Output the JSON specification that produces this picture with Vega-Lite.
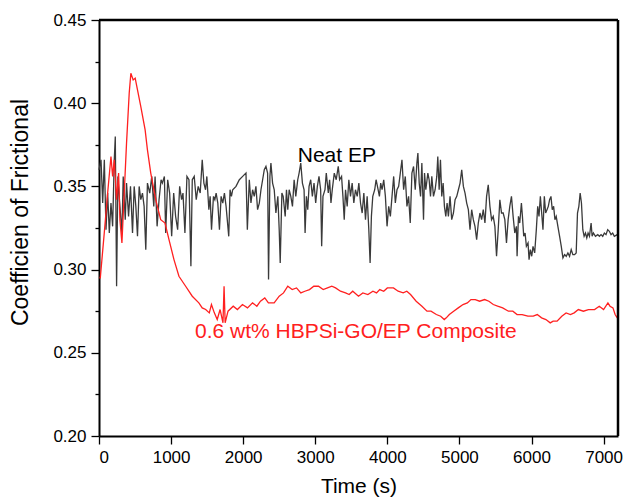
{
  "$schema": "https://vega.github.io/schema/vega-lite/v6.json",
  "width": 519,
  "height": 416,
  "autosize": {"type": "none"},
  "padding": {"left": 99, "top": 20, "right": 7, "bottom": 67},
  "background": "white",
  "config": {
    "view": {"stroke": null},
    "font": "Liberation Sans"
  },
  "resolve": {"scale": {"color": "independent"}},
  "datasets": {
    "curves": [
      {"series": "Neat EP", "t": 0, "v": 0.360},
      {"series": "Neat EP", "t": 28, "v": 0.366},
      {"series": "Neat EP", "t": 51, "v": 0.340},
      {"series": "Neat EP", "t": 74, "v": 0.366},
      {"series": "Neat EP", "t": 97, "v": 0.324},
      {"series": "Neat EP", "t": 120, "v": 0.346},
      {"series": "Neat EP", "t": 143, "v": 0.322},
      {"series": "Neat EP", "t": 166, "v": 0.340},
      {"series": "Neat EP", "t": 189, "v": 0.326},
      {"series": "Neat EP", "t": 212, "v": 0.366},
      {"series": "Neat EP", "t": 226, "v": 0.380},
      {"series": "Neat EP", "t": 244, "v": 0.290},
      {"series": "Neat EP", "t": 262, "v": 0.356},
      {"series": "Neat EP", "t": 290, "v": 0.338},
      {"series": "Neat EP", "t": 318, "v": 0.322},
      {"series": "Neat EP", "t": 336, "v": 0.356},
      {"series": "Neat EP", "t": 364, "v": 0.330},
      {"series": "Neat EP", "t": 382, "v": 0.352},
      {"series": "Neat EP", "t": 410, "v": 0.332},
      {"series": "Neat EP", "t": 437, "v": 0.350},
      {"series": "Neat EP", "t": 465, "v": 0.322},
      {"series": "Neat EP", "t": 488, "v": 0.350},
      {"series": "Neat EP", "t": 511, "v": 0.338},
      {"series": "Neat EP", "t": 534, "v": 0.320},
      {"series": "Neat EP", "t": 557, "v": 0.350},
      {"series": "Neat EP", "t": 580, "v": 0.342},
      {"series": "Neat EP", "t": 603, "v": 0.346},
      {"series": "Neat EP", "t": 626, "v": 0.338},
      {"series": "Neat EP", "t": 649, "v": 0.312},
      {"series": "Neat EP", "t": 672, "v": 0.352},
      {"series": "Neat EP", "t": 704, "v": 0.346},
      {"series": "Neat EP", "t": 732, "v": 0.356},
      {"series": "Neat EP", "t": 760, "v": 0.338},
      {"series": "Neat EP", "t": 778, "v": 0.356},
      {"series": "Neat EP", "t": 806, "v": 0.326},
      {"series": "Neat EP", "t": 833, "v": 0.342},
      {"series": "Neat EP", "t": 861, "v": 0.354},
      {"series": "Neat EP", "t": 879, "v": 0.352},
      {"series": "Neat EP", "t": 907, "v": 0.356},
      {"series": "Neat EP", "t": 925, "v": 0.322},
      {"series": "Neat EP", "t": 953, "v": 0.354},
      {"series": "Neat EP", "t": 980, "v": 0.346},
      {"series": "Neat EP", "t": 1008, "v": 0.320},
      {"series": "Neat EP", "t": 1036, "v": 0.346},
      {"series": "Neat EP", "t": 1063, "v": 0.332},
      {"series": "Neat EP", "t": 1091, "v": 0.324},
      {"series": "Neat EP", "t": 1119, "v": 0.350},
      {"series": "Neat EP", "t": 1146, "v": 0.342},
      {"series": "Neat EP", "t": 1165, "v": 0.346},
      {"series": "Neat EP", "t": 1192, "v": 0.322},
      {"series": "Neat EP", "t": 1220, "v": 0.356},
      {"series": "Neat EP", "t": 1248, "v": 0.354},
      {"series": "Neat EP", "t": 1275, "v": 0.302},
      {"series": "Neat EP", "t": 1294, "v": 0.354},
      {"series": "Neat EP", "t": 1321, "v": 0.356},
      {"series": "Neat EP", "t": 1349, "v": 0.342},
      {"series": "Neat EP", "t": 1376, "v": 0.350},
      {"series": "Neat EP", "t": 1404, "v": 0.346},
      {"series": "Neat EP", "t": 1432, "v": 0.366},
      {"series": "Neat EP", "t": 1455, "v": 0.352},
      {"series": "Neat EP", "t": 1478, "v": 0.348},
      {"series": "Neat EP", "t": 1496, "v": 0.356},
      {"series": "Neat EP", "t": 1524, "v": 0.336},
      {"series": "Neat EP", "t": 1542, "v": 0.344},
      {"series": "Neat EP", "t": 1561, "v": 0.324},
      {"series": "Neat EP", "t": 1588, "v": 0.344},
      {"series": "Neat EP", "t": 1607, "v": 0.342},
      {"series": "Neat EP", "t": 1625, "v": 0.346},
      {"series": "Neat EP", "t": 1648, "v": 0.340},
      {"series": "Neat EP", "t": 1671, "v": 0.324},
      {"series": "Neat EP", "t": 1694, "v": 0.344},
      {"series": "Neat EP", "t": 1717, "v": 0.340},
      {"series": "Neat EP", "t": 1740, "v": 0.346},
      {"series": "Neat EP", "t": 1763, "v": 0.338},
      {"series": "Neat EP", "t": 1800, "v": 0.320},
      {"series": "Neat EP", "t": 1818, "v": 0.348},
      {"series": "Neat EP", "t": 1837, "v": 0.344},
      {"series": "Neat EP", "t": 1855, "v": 0.348},
      {"series": "Neat EP", "t": 1901, "v": 0.350},
      {"series": "Neat EP", "t": 1947, "v": 0.354},
      {"series": "Neat EP", "t": 1993, "v": 0.356},
      {"series": "Neat EP", "t": 2039, "v": 0.358},
      {"series": "Neat EP", "t": 2058, "v": 0.324},
      {"series": "Neat EP", "t": 2085, "v": 0.354},
      {"series": "Neat EP", "t": 2108, "v": 0.340},
      {"series": "Neat EP", "t": 2131, "v": 0.348},
      {"series": "Neat EP", "t": 2154, "v": 0.344},
      {"series": "Neat EP", "t": 2177, "v": 0.350},
      {"series": "Neat EP", "t": 2200, "v": 0.336},
      {"series": "Neat EP", "t": 2224, "v": 0.340},
      {"series": "Neat EP", "t": 2247, "v": 0.348},
      {"series": "Neat EP", "t": 2270, "v": 0.354},
      {"series": "Neat EP", "t": 2293, "v": 0.360},
      {"series": "Neat EP", "t": 2316, "v": 0.362},
      {"series": "Neat EP", "t": 2339, "v": 0.358},
      {"series": "Neat EP", "t": 2352, "v": 0.294},
      {"series": "Neat EP", "t": 2371, "v": 0.356},
      {"series": "Neat EP", "t": 2385, "v": 0.364},
      {"series": "Neat EP", "t": 2408, "v": 0.352},
      {"series": "Neat EP", "t": 2431, "v": 0.348},
      {"series": "Neat EP", "t": 2454, "v": 0.334},
      {"series": "Neat EP", "t": 2481, "v": 0.344},
      {"series": "Neat EP", "t": 2500, "v": 0.324},
      {"series": "Neat EP", "t": 2514, "v": 0.304},
      {"series": "Neat EP", "t": 2537, "v": 0.346},
      {"series": "Neat EP", "t": 2555, "v": 0.344},
      {"series": "Neat EP", "t": 2583, "v": 0.332},
      {"series": "Neat EP", "t": 2601, "v": 0.348},
      {"series": "Neat EP", "t": 2619, "v": 0.336},
      {"series": "Neat EP", "t": 2638, "v": 0.348},
      {"series": "Neat EP", "t": 2661, "v": 0.344},
      {"series": "Neat EP", "t": 2684, "v": 0.338},
      {"series": "Neat EP", "t": 2707, "v": 0.354},
      {"series": "Neat EP", "t": 2730, "v": 0.344},
      {"series": "Neat EP", "t": 2757, "v": 0.354},
      {"series": "Neat EP", "t": 2776, "v": 0.358},
      {"series": "Neat EP", "t": 2799, "v": 0.364},
      {"series": "Neat EP", "t": 2822, "v": 0.352},
      {"series": "Neat EP", "t": 2845, "v": 0.348},
      {"series": "Neat EP", "t": 2859, "v": 0.322},
      {"series": "Neat EP", "t": 2877, "v": 0.344},
      {"series": "Neat EP", "t": 2896, "v": 0.336},
      {"series": "Neat EP", "t": 2914, "v": 0.350},
      {"series": "Neat EP", "t": 2937, "v": 0.354},
      {"series": "Neat EP", "t": 2960, "v": 0.344},
      {"series": "Neat EP", "t": 2983, "v": 0.352},
      {"series": "Neat EP", "t": 3006, "v": 0.340},
      {"series": "Neat EP", "t": 3029, "v": 0.350},
      {"series": "Neat EP", "t": 3052, "v": 0.356},
      {"series": "Neat EP", "t": 3075, "v": 0.348},
      {"series": "Neat EP", "t": 3089, "v": 0.314},
      {"series": "Neat EP", "t": 3107, "v": 0.344},
      {"series": "Neat EP", "t": 3135, "v": 0.348},
      {"series": "Neat EP", "t": 3153, "v": 0.358},
      {"series": "Neat EP", "t": 3181, "v": 0.346},
      {"series": "Neat EP", "t": 3199, "v": 0.354},
      {"series": "Neat EP", "t": 3218, "v": 0.340},
      {"series": "Neat EP", "t": 3236, "v": 0.348},
      {"series": "Neat EP", "t": 3264, "v": 0.358},
      {"series": "Neat EP", "t": 3291, "v": 0.354},
      {"series": "Neat EP", "t": 3319, "v": 0.362},
      {"series": "Neat EP", "t": 3338, "v": 0.354},
      {"series": "Neat EP", "t": 3365, "v": 0.356},
      {"series": "Neat EP", "t": 3384, "v": 0.344},
      {"series": "Neat EP", "t": 3402, "v": 0.330},
      {"series": "Neat EP", "t": 3420, "v": 0.348},
      {"series": "Neat EP", "t": 3443, "v": 0.338},
      {"series": "Neat EP", "t": 3466, "v": 0.354},
      {"series": "Neat EP", "t": 3489, "v": 0.344},
      {"series": "Neat EP", "t": 3512, "v": 0.352},
      {"series": "Neat EP", "t": 3535, "v": 0.340},
      {"series": "Neat EP", "t": 3558, "v": 0.348},
      {"series": "Neat EP", "t": 3582, "v": 0.344},
      {"series": "Neat EP", "t": 3605, "v": 0.352},
      {"series": "Neat EP", "t": 3628, "v": 0.340},
      {"series": "Neat EP", "t": 3651, "v": 0.334},
      {"series": "Neat EP", "t": 3674, "v": 0.346},
      {"series": "Neat EP", "t": 3697, "v": 0.330},
      {"series": "Neat EP", "t": 3720, "v": 0.344},
      {"series": "Neat EP", "t": 3743, "v": 0.324},
      {"series": "Neat EP", "t": 3761, "v": 0.304},
      {"series": "Neat EP", "t": 3779, "v": 0.332},
      {"series": "Neat EP", "t": 3798, "v": 0.344},
      {"series": "Neat EP", "t": 3825, "v": 0.348},
      {"series": "Neat EP", "t": 3844, "v": 0.354},
      {"series": "Neat EP", "t": 3872, "v": 0.348},
      {"series": "Neat EP", "t": 3890, "v": 0.344},
      {"series": "Neat EP", "t": 3908, "v": 0.352},
      {"series": "Neat EP", "t": 3927, "v": 0.348},
      {"series": "Neat EP", "t": 3950, "v": 0.354},
      {"series": "Neat EP", "t": 3973, "v": 0.344},
      {"series": "Neat EP", "t": 3996, "v": 0.326},
      {"series": "Neat EP", "t": 4019, "v": 0.338},
      {"series": "Neat EP", "t": 4042, "v": 0.332},
      {"series": "Neat EP", "t": 4065, "v": 0.344},
      {"series": "Neat EP", "t": 4088, "v": 0.356},
      {"series": "Neat EP", "t": 4111, "v": 0.340},
      {"series": "Neat EP", "t": 4134, "v": 0.348},
      {"series": "Neat EP", "t": 4157, "v": 0.350},
      {"series": "Neat EP", "t": 4180, "v": 0.358},
      {"series": "Neat EP", "t": 4203, "v": 0.366},
      {"series": "Neat EP", "t": 4226, "v": 0.348},
      {"series": "Neat EP", "t": 4249, "v": 0.356},
      {"series": "Neat EP", "t": 4272, "v": 0.338},
      {"series": "Neat EP", "t": 4295, "v": 0.344},
      {"series": "Neat EP", "t": 4318, "v": 0.328},
      {"series": "Neat EP", "t": 4341, "v": 0.358},
      {"series": "Neat EP", "t": 4364, "v": 0.362},
      {"series": "Neat EP", "t": 4387, "v": 0.348},
      {"series": "Neat EP", "t": 4410, "v": 0.364},
      {"series": "Neat EP", "t": 4424, "v": 0.370},
      {"series": "Neat EP", "t": 4442, "v": 0.352},
      {"series": "Neat EP", "t": 4461, "v": 0.344},
      {"series": "Neat EP", "t": 4479, "v": 0.364},
      {"series": "Neat EP", "t": 4502, "v": 0.330},
      {"series": "Neat EP", "t": 4516, "v": 0.358},
      {"series": "Neat EP", "t": 4534, "v": 0.348},
      {"series": "Neat EP", "t": 4562, "v": 0.358},
      {"series": "Neat EP", "t": 4580, "v": 0.354},
      {"series": "Neat EP", "t": 4599, "v": 0.344},
      {"series": "Neat EP", "t": 4617, "v": 0.356},
      {"series": "Neat EP", "t": 4640, "v": 0.344},
      {"series": "Neat EP", "t": 4663, "v": 0.348},
      {"series": "Neat EP", "t": 4686, "v": 0.356},
      {"series": "Neat EP", "t": 4700, "v": 0.368},
      {"series": "Neat EP", "t": 4719, "v": 0.348},
      {"series": "Neat EP", "t": 4737, "v": 0.366},
      {"series": "Neat EP", "t": 4755, "v": 0.344},
      {"series": "Neat EP", "t": 4774, "v": 0.352},
      {"series": "Neat EP", "t": 4792, "v": 0.338},
      {"series": "Neat EP", "t": 4811, "v": 0.332},
      {"series": "Neat EP", "t": 4829, "v": 0.340},
      {"series": "Neat EP", "t": 4847, "v": 0.332},
      {"series": "Neat EP", "t": 4870, "v": 0.344},
      {"series": "Neat EP", "t": 4893, "v": 0.330},
      {"series": "Neat EP", "t": 4917, "v": 0.334},
      {"series": "Neat EP", "t": 4940, "v": 0.342},
      {"series": "Neat EP", "t": 4963, "v": 0.344},
      {"series": "Neat EP", "t": 4986, "v": 0.348},
      {"series": "Neat EP", "t": 5009, "v": 0.352},
      {"series": "Neat EP", "t": 5032, "v": 0.360},
      {"series": "Neat EP", "t": 5055, "v": 0.350},
      {"series": "Neat EP", "t": 5078, "v": 0.346},
      {"series": "Neat EP", "t": 5101, "v": 0.340},
      {"series": "Neat EP", "t": 5124, "v": 0.336},
      {"series": "Neat EP", "t": 5147, "v": 0.324},
      {"series": "Neat EP", "t": 5170, "v": 0.336},
      {"series": "Neat EP", "t": 5193, "v": 0.330},
      {"series": "Neat EP", "t": 5216, "v": 0.326},
      {"series": "Neat EP", "t": 5239, "v": 0.318},
      {"series": "Neat EP", "t": 5262, "v": 0.328},
      {"series": "Neat EP", "t": 5285, "v": 0.334},
      {"series": "Neat EP", "t": 5308, "v": 0.330},
      {"series": "Neat EP", "t": 5331, "v": 0.336},
      {"series": "Neat EP", "t": 5354, "v": 0.328},
      {"series": "Neat EP", "t": 5377, "v": 0.344},
      {"series": "Neat EP", "t": 5400, "v": 0.351},
      {"series": "Neat EP", "t": 5423, "v": 0.338},
      {"series": "Neat EP", "t": 5446, "v": 0.330},
      {"series": "Neat EP", "t": 5469, "v": 0.332},
      {"series": "Neat EP", "t": 5492, "v": 0.326},
      {"series": "Neat EP", "t": 5515, "v": 0.308},
      {"series": "Neat EP", "t": 5538, "v": 0.324},
      {"series": "Neat EP", "t": 5561, "v": 0.342},
      {"series": "Neat EP", "t": 5584, "v": 0.334},
      {"series": "Neat EP", "t": 5607, "v": 0.334},
      {"series": "Neat EP", "t": 5630, "v": 0.330},
      {"series": "Neat EP", "t": 5653, "v": 0.316},
      {"series": "Neat EP", "t": 5676, "v": 0.330},
      {"series": "Neat EP", "t": 5699, "v": 0.338},
      {"series": "Neat EP", "t": 5722, "v": 0.344},
      {"series": "Neat EP", "t": 5745, "v": 0.332},
      {"series": "Neat EP", "t": 5768, "v": 0.322},
      {"series": "Neat EP", "t": 5791, "v": 0.326},
      {"series": "Neat EP", "t": 5800, "v": 0.308},
      {"series": "Neat EP", "t": 5819, "v": 0.332},
      {"series": "Neat EP", "t": 5837, "v": 0.328},
      {"series": "Neat EP", "t": 5860, "v": 0.340},
      {"series": "Neat EP", "t": 5874, "v": 0.332},
      {"series": "Neat EP", "t": 5892, "v": 0.320},
      {"series": "Neat EP", "t": 5911, "v": 0.322},
      {"series": "Neat EP", "t": 5929, "v": 0.314},
      {"series": "Neat EP", "t": 5952, "v": 0.316},
      {"series": "Neat EP", "t": 5966, "v": 0.306},
      {"series": "Neat EP", "t": 5984, "v": 0.312},
      {"series": "Neat EP", "t": 6003, "v": 0.308},
      {"series": "Neat EP", "t": 6021, "v": 0.314},
      {"series": "Neat EP", "t": 6044, "v": 0.310},
      {"series": "Neat EP", "t": 6067, "v": 0.324},
      {"series": "Neat EP", "t": 6086, "v": 0.338},
      {"series": "Neat EP", "t": 6104, "v": 0.332},
      {"series": "Neat EP", "t": 6123, "v": 0.344},
      {"series": "Neat EP", "t": 6141, "v": 0.334},
      {"series": "Neat EP", "t": 6159, "v": 0.324},
      {"series": "Neat EP", "t": 6178, "v": 0.344},
      {"series": "Neat EP", "t": 6196, "v": 0.334},
      {"series": "Neat EP", "t": 6215, "v": 0.336},
      {"series": "Neat EP", "t": 6233, "v": 0.338},
      {"series": "Neat EP", "t": 6251, "v": 0.342},
      {"series": "Neat EP", "t": 6270, "v": 0.344},
      {"series": "Neat EP", "t": 6288, "v": 0.336},
      {"series": "Neat EP", "t": 6307, "v": 0.338},
      {"series": "Neat EP", "t": 6325, "v": 0.330},
      {"series": "Neat EP", "t": 6343, "v": 0.332},
      {"series": "Neat EP", "t": 6366, "v": 0.326},
      {"series": "Neat EP", "t": 6390, "v": 0.320},
      {"series": "Neat EP", "t": 6413, "v": 0.314},
      {"series": "Neat EP", "t": 6436, "v": 0.307},
      {"series": "Neat EP", "t": 6459, "v": 0.309},
      {"series": "Neat EP", "t": 6482, "v": 0.308},
      {"series": "Neat EP", "t": 6505, "v": 0.310},
      {"series": "Neat EP", "t": 6528, "v": 0.308},
      {"series": "Neat EP", "t": 6551, "v": 0.312},
      {"series": "Neat EP", "t": 6574, "v": 0.309},
      {"series": "Neat EP", "t": 6597, "v": 0.309},
      {"series": "Neat EP", "t": 6620, "v": 0.310},
      {"series": "Neat EP", "t": 6638, "v": 0.334},
      {"series": "Neat EP", "t": 6657, "v": 0.338},
      {"series": "Neat EP", "t": 6675, "v": 0.346},
      {"series": "Neat EP", "t": 6693, "v": 0.340},
      {"series": "Neat EP", "t": 6712, "v": 0.324},
      {"series": "Neat EP", "t": 6730, "v": 0.320},
      {"series": "Neat EP", "t": 6749, "v": 0.322},
      {"series": "Neat EP", "t": 6767, "v": 0.319},
      {"series": "Neat EP", "t": 6785, "v": 0.322},
      {"series": "Neat EP", "t": 6804, "v": 0.320},
      {"series": "Neat EP", "t": 6827, "v": 0.328},
      {"series": "Neat EP", "t": 6841, "v": 0.320},
      {"series": "Neat EP", "t": 6859, "v": 0.322},
      {"series": "Neat EP", "t": 6887, "v": 0.320},
      {"series": "Neat EP", "t": 6919, "v": 0.321},
      {"series": "Neat EP", "t": 6942, "v": 0.320},
      {"series": "Neat EP", "t": 6965, "v": 0.321},
      {"series": "Neat EP", "t": 6988, "v": 0.320},
      {"series": "Neat EP", "t": 7011, "v": 0.322},
      {"series": "Neat EP", "t": 7034, "v": 0.321},
      {"series": "Neat EP", "t": 7057, "v": 0.324},
      {"series": "Neat EP", "t": 7080, "v": 0.323},
      {"series": "Neat EP", "t": 7103, "v": 0.321},
      {"series": "Neat EP", "t": 7126, "v": 0.322},
      {"series": "Neat EP", "t": 7149, "v": 0.320},
      {"series": "Neat EP", "t": 7190, "v": 0.321},
      {"series": "Composite", "t": 5, "v": 0.295},
      {"series": "Composite", "t": 18, "v": 0.295},
      {"series": "Composite", "t": 73, "v": 0.322},
      {"series": "Composite", "t": 120, "v": 0.346},
      {"series": "Composite", "t": 166, "v": 0.368},
      {"series": "Composite", "t": 189, "v": 0.356},
      {"series": "Composite", "t": 212, "v": 0.366},
      {"series": "Composite", "t": 244, "v": 0.342},
      {"series": "Composite", "t": 272, "v": 0.358},
      {"series": "Composite", "t": 290, "v": 0.330},
      {"series": "Composite", "t": 318, "v": 0.316},
      {"series": "Composite", "t": 350, "v": 0.346},
      {"series": "Composite", "t": 382, "v": 0.376},
      {"series": "Composite", "t": 419, "v": 0.406},
      {"series": "Composite", "t": 442, "v": 0.418},
      {"series": "Composite", "t": 474, "v": 0.414},
      {"series": "Composite", "t": 502, "v": 0.415},
      {"series": "Composite", "t": 534, "v": 0.408},
      {"series": "Composite", "t": 580, "v": 0.398},
      {"series": "Composite", "t": 640, "v": 0.384},
      {"series": "Composite", "t": 672, "v": 0.372},
      {"series": "Composite", "t": 718, "v": 0.358},
      {"series": "Composite", "t": 787, "v": 0.342},
      {"series": "Composite", "t": 856, "v": 0.330},
      {"series": "Composite", "t": 916, "v": 0.328},
      {"series": "Composite", "t": 971, "v": 0.318},
      {"series": "Composite", "t": 1040, "v": 0.306},
      {"series": "Composite", "t": 1109, "v": 0.296},
      {"series": "Composite", "t": 1202, "v": 0.290},
      {"series": "Composite", "t": 1294, "v": 0.284},
      {"series": "Composite", "t": 1385, "v": 0.280},
      {"series": "Composite", "t": 1432, "v": 0.277},
      {"series": "Composite", "t": 1480, "v": 0.276},
      {"series": "Composite", "t": 1530, "v": 0.274},
      {"series": "Composite", "t": 1560, "v": 0.279},
      {"series": "Composite", "t": 1600, "v": 0.274},
      {"series": "Composite", "t": 1640, "v": 0.270},
      {"series": "Composite", "t": 1680, "v": 0.276},
      {"series": "Composite", "t": 1720, "v": 0.268},
      {"series": "Composite", "t": 1735, "v": 0.290},
      {"series": "Composite", "t": 1750, "v": 0.268},
      {"series": "Composite", "t": 1790, "v": 0.275},
      {"series": "Composite", "t": 1862, "v": 0.278},
      {"series": "Composite", "t": 1920, "v": 0.276},
      {"series": "Composite", "t": 1990, "v": 0.279},
      {"series": "Composite", "t": 2060, "v": 0.277},
      {"series": "Composite", "t": 2130, "v": 0.280},
      {"series": "Composite", "t": 2190, "v": 0.278},
      {"series": "Composite", "t": 2240, "v": 0.281},
      {"series": "Composite", "t": 2300, "v": 0.283},
      {"series": "Composite", "t": 2350, "v": 0.280},
      {"series": "Composite", "t": 2430, "v": 0.280},
      {"series": "Composite", "t": 2500, "v": 0.284},
      {"series": "Composite", "t": 2560, "v": 0.286},
      {"series": "Composite", "t": 2619, "v": 0.290},
      {"series": "Composite", "t": 2680, "v": 0.288},
      {"series": "Composite", "t": 2740, "v": 0.289},
      {"series": "Composite", "t": 2800, "v": 0.286},
      {"series": "Composite", "t": 2856, "v": 0.287},
      {"series": "Composite", "t": 2920, "v": 0.288},
      {"series": "Composite", "t": 2980, "v": 0.290},
      {"series": "Composite", "t": 3045, "v": 0.290},
      {"series": "Composite", "t": 3110, "v": 0.288},
      {"series": "Composite", "t": 3170, "v": 0.289},
      {"series": "Composite", "t": 3230, "v": 0.290},
      {"series": "Composite", "t": 3282, "v": 0.289},
      {"series": "Composite", "t": 3350, "v": 0.287},
      {"series": "Composite", "t": 3420, "v": 0.286},
      {"series": "Composite", "t": 3471, "v": 0.285},
      {"series": "Composite", "t": 3520, "v": 0.287},
      {"series": "Composite", "t": 3600, "v": 0.284},
      {"series": "Composite", "t": 3660, "v": 0.286},
      {"series": "Composite", "t": 3730, "v": 0.285},
      {"series": "Composite", "t": 3800, "v": 0.287},
      {"series": "Composite", "t": 3850, "v": 0.286},
      {"series": "Composite", "t": 3895, "v": 0.288},
      {"series": "Composite", "t": 3950, "v": 0.287},
      {"series": "Composite", "t": 4000, "v": 0.289},
      {"series": "Composite", "t": 4085, "v": 0.289},
      {"series": "Composite", "t": 4150, "v": 0.287},
      {"series": "Composite", "t": 4220, "v": 0.286},
      {"series": "Composite", "t": 4270, "v": 0.287},
      {"series": "Composite", "t": 4322, "v": 0.285},
      {"series": "Composite", "t": 4400, "v": 0.281},
      {"series": "Composite", "t": 4480, "v": 0.278},
      {"series": "Composite", "t": 4550, "v": 0.275},
      {"series": "Composite", "t": 4606, "v": 0.275},
      {"series": "Composite", "t": 4680, "v": 0.273},
      {"series": "Composite", "t": 4740, "v": 0.272},
      {"series": "Composite", "t": 4790, "v": 0.270},
      {"series": "Composite", "t": 4818, "v": 0.271},
      {"series": "Composite", "t": 4860, "v": 0.273},
      {"series": "Composite", "t": 4920, "v": 0.275},
      {"series": "Composite", "t": 4984, "v": 0.277},
      {"series": "Composite", "t": 5050, "v": 0.279},
      {"series": "Composite", "t": 5110, "v": 0.280},
      {"series": "Composite", "t": 5160, "v": 0.282},
      {"series": "Composite", "t": 5220, "v": 0.282},
      {"series": "Composite", "t": 5280, "v": 0.281},
      {"series": "Composite", "t": 5350, "v": 0.282},
      {"series": "Composite", "t": 5409, "v": 0.281},
      {"series": "Composite", "t": 5470, "v": 0.279},
      {"series": "Composite", "t": 5530, "v": 0.278},
      {"series": "Composite", "t": 5600, "v": 0.277},
      {"series": "Composite", "t": 5680, "v": 0.275},
      {"series": "Composite", "t": 5741, "v": 0.275},
      {"series": "Composite", "t": 5800, "v": 0.273},
      {"series": "Composite", "t": 5870, "v": 0.273},
      {"series": "Composite", "t": 5950, "v": 0.272},
      {"series": "Composite", "t": 6024, "v": 0.272},
      {"series": "Composite", "t": 6080, "v": 0.273},
      {"series": "Composite", "t": 6140, "v": 0.271},
      {"series": "Composite", "t": 6200, "v": 0.270},
      {"series": "Composite", "t": 6260, "v": 0.268},
      {"series": "Composite", "t": 6300, "v": 0.269},
      {"series": "Composite", "t": 6355, "v": 0.269},
      {"series": "Composite", "t": 6420, "v": 0.272},
      {"series": "Composite", "t": 6480, "v": 0.274},
      {"series": "Composite", "t": 6540, "v": 0.273},
      {"series": "Composite", "t": 6592, "v": 0.274},
      {"series": "Composite", "t": 6650, "v": 0.276},
      {"series": "Composite", "t": 6720, "v": 0.275},
      {"series": "Composite", "t": 6790, "v": 0.276},
      {"series": "Composite", "t": 6875, "v": 0.276},
      {"series": "Composite", "t": 6940, "v": 0.278},
      {"series": "Composite", "t": 7000, "v": 0.276},
      {"series": "Composite", "t": 7060, "v": 0.280},
      {"series": "Composite", "t": 7089, "v": 0.278},
      {"series": "Composite", "t": 7130, "v": 0.277},
      {"series": "Composite", "t": 7160, "v": 0.273},
      {"series": "Composite", "t": 7190, "v": 0.271}
    ],
    "labels": [
      {"series": "Neat EP", "label": "Neat EP", "t": 3300, "v": 0.3685},
      {"series": "Composite", "label": "0.6 wt% HBPSi-GO/EP Composite", "t": 3563, "v": 0.2624}
    ],
    "frame": [
      {"edge": "top", "xa": 0, "xb": 7200, "ya": 0.45, "yb": 0.45},
      {"edge": "right", "xa": 7200, "xb": 7200, "ya": 0.2, "yb": 0.45}
    ]
  },
  "layer": [
    {
      "data": {"name": "curves"},
      "mark": {"type": "line", "strokeWidth": 1.3},
      "encoding": {
        "x": {
          "field": "t", "type": "quantitative",
          "scale": {"domain": [0, 7200], "nice": false, "zero": false},
          "axis": {
            "title": "Time (s)",
            "values": [0, 500, 1000, 1500, 2000, 2500, 3000, 3500, 4000, 4500, 5000, 5500, 6000, 6500, 7000],
            "format": "d",
            "labelExpr": "datum.value % 1000 == 0 ? datum.label : ''",
            "tickSize": {"condition": {"test": "datum.value % 1000 == 0", "value": 8}, "value": 4},
            "grid": false,
            "domainColor": "black", "domainWidth": 2,
            "tickColor": "black", "tickWidth": 1.3,
            "labelFontSize": 17, "labelColor": "black", "labelPadding": 5, "labelOverlap": false,
            "titleFontSize": 21, "titleFontWeight": "normal", "titleColor": "black", "titlePadding": 10
          }
        },
        "y": {
          "field": "v", "type": "quantitative",
          "scale": {"domain": [0.2, 0.45], "nice": false, "zero": false},
          "axis": {
            "title": "Coefficien of Frictional",
            "values": [0.2, 0.225, 0.25, 0.275, 0.3, 0.325, 0.35, 0.375, 0.4, 0.425, 0.45],
            "labelExpr": "abs(datum.value*20 - round(datum.value*20)) < 0.000001 ? format(datum.value, '.2f') : ''",
            "tickSize": {"condition": {"test": "abs(datum.value*20 - round(datum.value*20)) < 0.000001", "value": 8}, "value": 4},
            "grid": false,
            "domainColor": "black", "domainWidth": 2,
            "tickColor": "black", "tickWidth": 1.3,
            "labelFontSize": 17, "labelColor": "black", "labelPadding": 5, "labelOverlap": false,
            "titleFontSize": 23, "titleFontWeight": "normal", "titleColor": "black", "titlePadding": 20,
            "titleY": 192
          }
        },
        "color": {
          "field": "series", "type": "nominal",
          "scale": {"domain": ["Neat EP", "Composite"], "range": ["#3a3a3a", "#ff2020"]},
          "legend": null
        }
      }
    },
    {
      "data": {"name": "labels"},
      "mark": {"type": "text", "fontSize": 21, "font": "Liberation Sans", "align": "center", "baseline": "middle"},
      "encoding": {
        "x": {"field": "t", "type": "quantitative"},
        "y": {"field": "v", "type": "quantitative"},
        "text": {"field": "label"},
        "color": {
          "field": "series", "type": "nominal",
          "scale": {"domain": ["Neat EP", "Composite"], "range": ["#000000", "#ff2020"]},
          "legend": null
        }
      }
    },
    {
      "data": {"name": "frame"},
      "mark": {"type": "rule", "color": "black", "strokeWidth": 2.5, "clip": false},
      "encoding": {
        "x": {"field": "xa", "type": "quantitative"},
        "x2": {"field": "xb"},
        "y": {"field": "ya", "type": "quantitative"},
        "y2": {"field": "yb"}
      }
    }
  ]
}
